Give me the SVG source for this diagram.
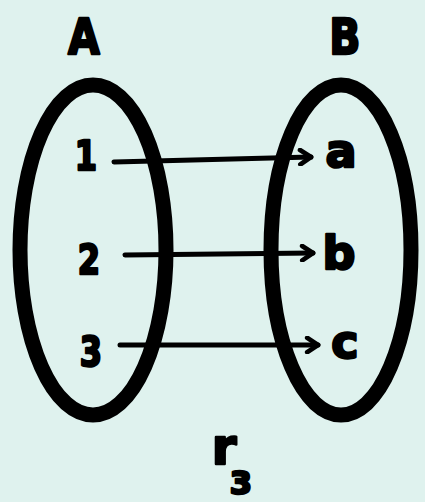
<svg xmlns="http://www.w3.org/2000/svg" width="425" height="502" viewBox="0 0 425 502">
<style>
.bg{fill:#dff2ee}
.set{fill:none;stroke:#000;stroke-width:15}
.lbl{font-family:"DejaVu Sans",sans-serif;font-weight:bold;fill:#000;stroke:#000;stroke-width:2.5;stroke-linejoin:round;text-anchor:middle}
.arr{stroke:#000;stroke-width:5;fill:none;stroke-linecap:round}
</style>
<defs>
<marker id="ah" viewBox="0 0 10 10" refX="8" refY="5" markerWidth="3.6" markerHeight="3.6" orient="auto">
<path d="M2,1 L8,5 L2,9" fill="none" stroke="#000" stroke-width="2.6" stroke-linecap="round" stroke-linejoin="round"/>
</marker>
</defs>
<rect class="bg" x="0" y="0" width="425" height="502"/>
<g id="setA">
<ellipse class="set" cx="93" cy="250" rx="73" ry="165"/>
<text class="lbl" x="84" y="54" font-size="50" transform="translate(84 0) scale(0.82 1) translate(-84 0)">A</text>
</g>
<g id="setB">
<ellipse class="set" cx="341" cy="250" rx="70" ry="165"/>
<text class="lbl" x="345" y="54" font-size="50" transform="translate(345 0) scale(0.82 1) translate(-345 0)">B</text>
</g>
<g id="n1"><text class="lbl" x="86" y="170" font-size="40" transform="translate(86 0) scale(0.8 1) translate(-86 0)">1</text></g>
<g id="n2"><text class="lbl" x="89" y="274" font-size="40" transform="translate(89 0) scale(0.8 1) translate(-89 0)">2</text></g>
<g id="n3"><text class="lbl" x="91" y="366" font-size="40" transform="translate(91 0) scale(0.8 1) translate(-91 0)">3</text></g>
<g id="na"><text class="lbl" x="341" y="167" font-size="46">a</text></g>
<g id="nb"><text class="lbl" x="339" y="269" font-size="46">b</text></g>
<g id="nc"><text class="lbl" x="345" y="358" font-size="46">c</text></g>
<g id="connectors">
<path class="arr" d="M114,162 L311,157" marker-end="url(#ah)"/>
<path class="arr" d="M125,255 L313,253" marker-end="url(#ah)"/>
<path class="arr" d="M120,345 L318,345" marker-end="url(#ah)"/>
</g>
<g id="label">
<text class="lbl" x="224" y="464" font-size="50">r</text>
<text class="lbl" x="241" y="494" font-size="32">3</text>
</g>
</svg>
